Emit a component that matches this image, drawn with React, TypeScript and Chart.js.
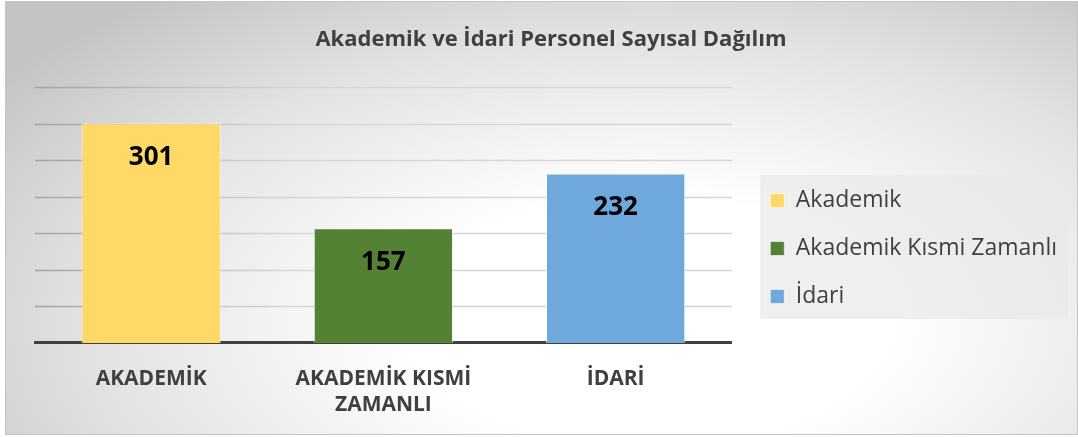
import React, { useEffect, useRef } from "react";
import { Chart, registerables, layouts } from "chart.js";

Chart.register(...registerables);

const titleText = "Akademik ve İdari Personel Sayısal Dağılım";
const categories: string[][] = [["AKADEMİK"], ["AKADEMİK KISMİ", "ZAMANLI"], ["İDARİ"]];
const seriesNames = ["Akademik", "Akademik Kısmi Zamanlı", "İdari"];
const values = [301, 157, 232];
const seriesColors = ["#FFD966", "#548235", "#6FA8DC"];
const yTicks = [0, 50, 100, 150, 200, 250, 300, 350];

const FONT = "'Open Sans', 'DejaVu Sans', sans-serif";
const LEGEND_GAP = 13.5;

const valueLabels = {
  id: "valueLabels",
  afterDatasetsDraw(chart: any) {
    const ctx = chart.ctx;
    ctx.save();
    ctx.font = `bold 26px ${FONT}`;
    ctx.fillStyle = "#000000";
    ctx.textAlign = "center";
    ctx.textBaseline = "middle";
    chart.data.datasets.forEach((ds: any, i: number) => {
      const meta = chart.getDatasetMeta(i);
      meta.data.forEach((el: any, j: number) => {
        const v = ds.data[j];
        if (v == null) return;
        ctx.fillText(String(v), el.x, el.y + 34);
      });
    });
    ctx.restore();
  },
};

const gridLines = {
  id: "gridLines",
  beforeDatasetsDraw(chart: any) {
    const { ctx, chartArea, scales } = chart;
    const y = scales.y;
    const grad = ctx.createLinearGradient(chartArea.left, 0, chartArea.left + 260, 0);
    grad.addColorStop(0, "#a4a4a4");
    grad.addColorStop(1, "#d6d6d6");
    ctx.save();
    ctx.strokeStyle = grad;
    ctx.lineWidth = 1.5;
    yTicks.forEach((v, i) => {
      if (i === 0) return;
      const py = Math.round(y.getPixelForValue(v)) + 0.5;
      ctx.beginPath();
      ctx.moveTo(chartArea.left, py);
      ctx.lineTo(chartArea.right, py);
      ctx.stroke();
    });
    ctx.restore();
  },
};

const legendBox = {
  id: "legendBox",
  beforeDraw(chart: any) {
    const lg = chart.legend;
    if (!lg || !lg.legendHitBoxes || !lg.legendHitBoxes.length) return;
    const boxes = lg.legendHitBoxes;
    const first = boxes[0];
    const last = boxes[boxes.length - 1];
    const left = first.left - 10;
    const top = first.top - 14;
    const right = chart.width - 9;
    const bottom = last.top + last.height + 11;
    const ctx = chart.ctx;
    ctx.save();
    ctx.fillStyle = "rgba(232,232,232,0.7)";
    ctx.fillRect(left, top, right - left, bottom - top);
    ctx.restore();
  },
};

const legendSpacer = {
  id: "legendSpacer",
  beforeInit(chart: any) {
    const box: any = {
      position: "right",
      weight: 0,
      fullSize: false,
      options: { display: false },
      left: 0,
      top: 0,
      right: 0,
      bottom: 0,
      width: 0,
      height: 0,
      isHorizontal() {
        return false;
      },
      update(_maxWidth: number, maxHeight: number) {
        this.width = LEGEND_GAP;
        this.height = maxHeight;
      },
      draw() {},
    };
    layouts.addBox(chart, box);
  },
};

export default function App() {
  const canvasRef = useRef<HTMLCanvasElement | null>(null);

  useEffect(() => {
    document.body.style.margin = "0";
    const canvas = canvasRef.current;
    if (!canvas) return;
    const chart = new Chart(canvas, {
      type: "bar",
      data: {
        labels: categories,
        datasets: seriesNames.map((name, i) => ({
          label: name,
          data: values.map((v, j) => (j === i ? v : null)),
          backgroundColor: seriesColors[i],
          borderColor: "rgba(255,255,255,0.6)",
          borderWidth: 1,
          skipNull: true,
          barPercentage: 0.6,
          categoryPercentage: 1,
        })),
      },
      options: {
        animation: false,
        responsive: false,
        maintainAspectRatio: false,
        layout: { padding: { left: 29, right: 10, top: 0, bottom: 1 } },
        plugins: {
          title: {
            display: true,
            text: titleText,
            color: "#404040",
            font: { family: FONT, size: 22, weight: "bold" },
            padding: { top: 25, bottom: 34 },
          },
          legend: {
            display: true,
            position: "right",
            title: { display: true, text: "", padding: 21, font: { size: 10 } },
            labels: {
              boxWidth: 14,
              boxHeight: 14,
              color: "#404040",
              font: { family: FONT, size: 23 },
              padding: 25,
            },
          },
          tooltip: { enabled: false },
        },
        scales: {
          x: {
            z: 1,
            grid: { display: false, drawTicks: false },
            border: { display: true, color: "#404040", width: 3 },
            ticks: {
              color: "#404040",
              font: { family: FONT, size: 21, weight: "bold", lineHeight: 1.24 },
              padding: 23,
              maxRotation: 0,
              autoSkip: false,
            },
          },
          y: {
            display: false,
            min: yTicks[0],
            max: yTicks[yTicks.length - 1],
            ticks: { stepSize: yTicks[1] - yTicks[0] },
          },
        },
      },
      plugins: [legendSpacer, legendBox, gridLines, valueLabels],
    });
    return () => chart.destroy();
  }, []);

  return (
    <div
      style={{
        position: "absolute",
        left: 5,
        top: 1,
        width: 1073,
        height: 434,
        boxSizing: "border-box",
        border: "1px solid #c4c4c4",
        overflow: "hidden",
        background:
          "radial-gradient(ellipse 75% 95% at 60% 74%, #ffffff 0%, #ffffff 30%, #e2e2e2 70%, #c4c4c4 100%)",
      }}
    >
      <canvas ref={canvasRef} width={1071} height={440} style={{ display: "block" }} />
    </div>
  );
}
